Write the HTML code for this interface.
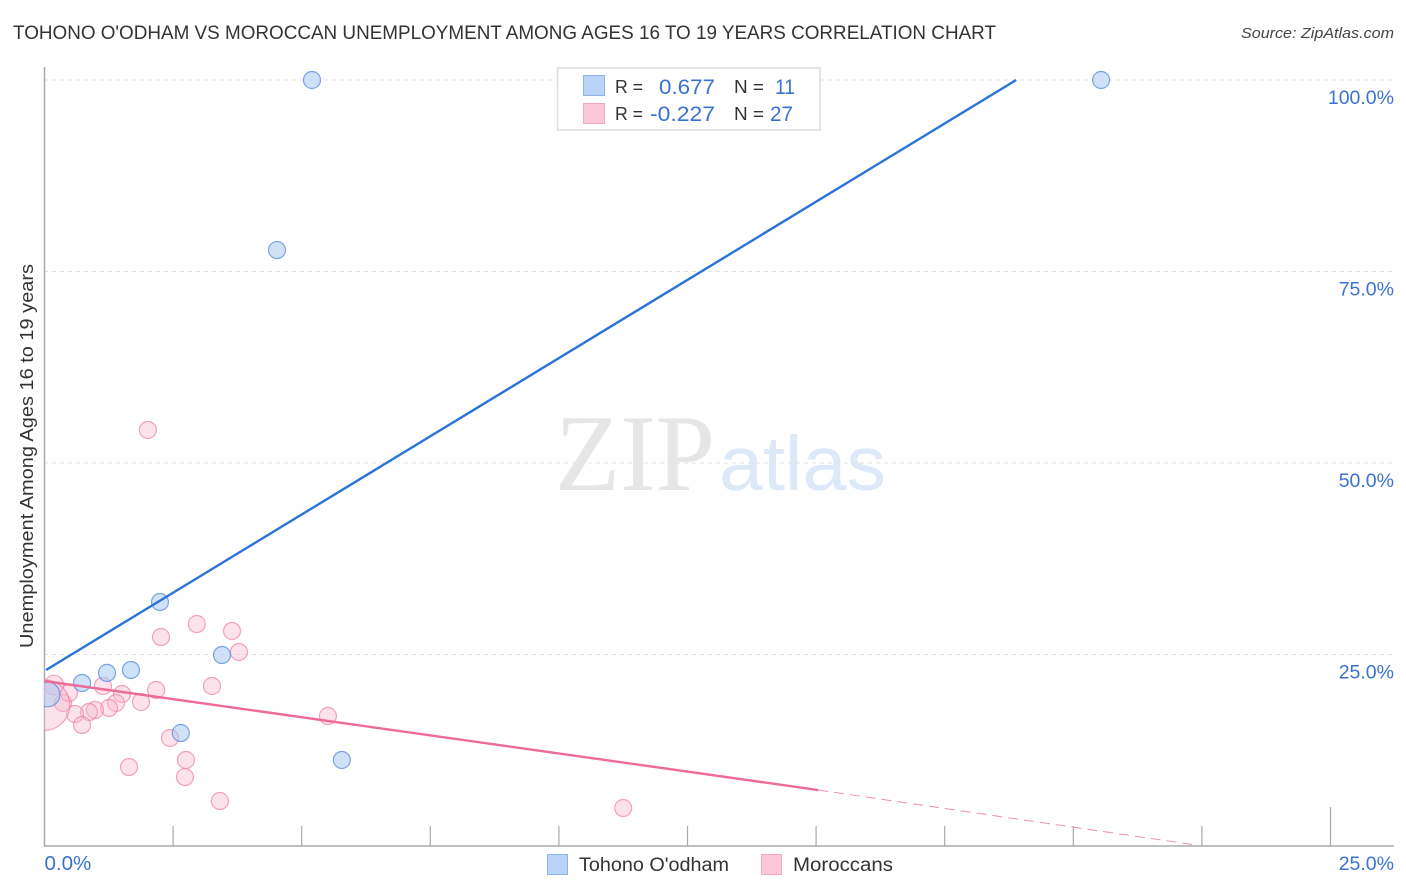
<!DOCTYPE html>
<html lang="en">
<head>
<meta charset="utf-8">
<title>Tohono O'odham vs Moroccan Unemployment Correlation Chart</title>
<style>
html,body{margin:0;padding:0;background:#fff;}
svg{display:block;font-family:"Liberation Sans",sans-serif;}
</style>
</head>
<body>
<svg id="chart" width="1406" height="892" viewBox="0 0 1406 892" xmlns="http://www.w3.org/2000/svg">
  <defs>
    <clipPath id="plot-clip"><rect x="44" y="60" width="1350" height="786"/></clipPath>
  </defs>
  <rect x="0" y="0" width="1406" height="892" fill="#ffffff"/>
  <text x="13" y="39" font-size="19" fill="#333333" textLength="983" lengthAdjust="spacingAndGlyphs">TOHONO O'ODHAM VS MOROCCAN UNEMPLOYMENT AMONG AGES 16 TO 19 YEARS CORRELATION CHART</text>
  <text x="1394" y="38" font-size="15" font-style="italic" fill="#444444" text-anchor="end" textLength="153" lengthAdjust="spacingAndGlyphs">Source: ZipAtlas.com</text>

  <g>
    <text x="555" y="490" font-family="'Liberation Serif',serif" font-size="109" fill="#e6e6e6" textLength="160" lengthAdjust="spacingAndGlyphs">ZIP</text>
    <text x="719" y="490" font-size="77" fill="#dde8f8" textLength="167" lengthAdjust="spacingAndGlyphs">atlas</text>
  </g>

  <g id="grid"></g>
  <g id="axes"></g>
  <g id="points" clip-path="url(#plot-clip)"></g>
  <g id="trends"></g>
  <g id="tick-labels"></g>

  <text transform="translate(33,456) rotate(-90)" font-size="18" fill="#333333" text-anchor="middle" textLength="384" lengthAdjust="spacingAndGlyphs">Unemployment Among Ages 16 to 19 years</text>

  <g>
    <rect x="557.5" y="68" width="262.5" height="62" fill="#ffffff" stroke="#e0e0e0" stroke-width="1.6"/>
    <rect x="583.5" y="75.5" width="21" height="20" fill="#b9d4f8" stroke="#8db4e8" stroke-width="1"/>
    <rect x="583.5" y="103.5" width="21" height="20" fill="#fcc7d8" stroke="#f5a6c0" stroke-width="1"/>
    <text x="615" y="93" font-size="18" fill="#333333" textLength="28" lengthAdjust="spacingAndGlyphs">R =</text>
    <text x="659" y="94" font-size="21" fill="#3b72cf" textLength="56" lengthAdjust="spacingAndGlyphs">0.677</text>
    <text x="734" y="93" font-size="18" fill="#333333" textLength="30" lengthAdjust="spacingAndGlyphs">N =</text>
    <text x="775" y="94" font-size="21" fill="#3b72cf" textLength="20" lengthAdjust="spacingAndGlyphs">11</text>
    <text x="615" y="120" font-size="18" fill="#333333" textLength="28" lengthAdjust="spacingAndGlyphs">R =</text>
    <text x="650" y="121" font-size="21" fill="#3b72cf" textLength="65" lengthAdjust="spacingAndGlyphs">-0.227</text>
    <text x="734" y="120" font-size="18" fill="#333333" textLength="30" lengthAdjust="spacingAndGlyphs">N =</text>
    <text x="770" y="121" font-size="21" fill="#3b72cf" textLength="23" lengthAdjust="spacingAndGlyphs">27</text>
  </g>

  <g>
    <rect x="547.5" y="854.5" width="20" height="20" fill="#b9d4f8" stroke="#8db4e8" stroke-width="1"/>
    <text x="579" y="871" font-size="19" fill="#333333" textLength="150" lengthAdjust="spacingAndGlyphs">Tohono O'odham</text>
    <rect x="761.5" y="854.5" width="20" height="20" fill="#fcc7d8" stroke="#f5a6c0" stroke-width="1"/>
    <text x="793" y="871" font-size="19" fill="#333333" textLength="100" lengthAdjust="spacingAndGlyphs">Moroccans</text>
  </g>
</svg>

<script>
// Chart data (percent values)
const yTickValues = [25, 50, 75, 100];
const yTickLabels = ["25.0%", "50.0%", "75.0%", "100.0%"];
const xTickValues = [2.5, 5, 7.5, 10, 12.5, 15, 17.5, 20, 22.5, 25];
const xEndValues = [0, 25];
const xEndLabels = ["0.0%", "25.0%"];

const tohonoX = [5.20, 20.54, 4.52, 2.245, 3.45, 1.215, 1.68, 0.73, 2.65, 5.78, 0.06];
const tohonoY = [100, 100, 77.8, 31.85, 24.93, 22.6, 22.98, 21.28, 14.75, 11.23, 19.78];
const tohonoWeight = [1, 1, 1, 1, 1, 1, 1, 1, 1, 1, 2.1];

const moroccansX = [2.96, 3.645, 2.265, 3.78, 3.256, 2.17, 1.137, 1.507, 1.39, 1.254, 1.876, 5.51, 0.98, 0.865, 0.593, 0.73, 0.36, 0.476, 0.185, 2.44, 2.75, 2.73, 1.643, 3.41, 11.25, 2.01, 0];
const moroccansY = [28.98, 28.07, 27.28, 25.33, 20.89, 20.37, 20.89, 19.84, 18.67, 18.02, 18.8, 16.97, 17.75, 17.49, 17.23, 15.8, 18.67, 19.97, 21.02, 14.1, 11.23, 9.0, 10.31, 5.87, 4.96, 54.31, 18.4];
const moroccansWeight = [1, 1, 1, 1, 1, 1, 1, 1, 1, 1, 1, 1, 1, 1, 1, 1, 1, 1, 1.3, 1, 1, 1, 1, 1, 1, 1, 8.8];

const tohonoTrendX = [0.03, 18.89];
const tohonoTrendY = [22.98, 100];
const moroccansTrendX = [0, 15.04];
const moroccansTrendY = [21.54, 7.31];
const moroccansDashX = [15.04, 22.41];
const moroccansDashY = [7.31, 0.1];

// Axis functions
function xScale(v) { return 44.5 + v * 51.44; }
function yScale(v) { return 846 - v * 7.66; }
function rScale(w) { return 8.5 * Math.sqrt(w); }

const NS = "http://www.w3.org/2000/svg";
function make(tag, parent) {
  const el = document.createElementNS(NS, tag);
  document.getElementById(parent).appendChild(el);
  return el;
}
function setLine(el, x1, y1, x2, y2, stroke, width) {
  el.setAttribute("x1", x1);
  el.setAttribute("y1", y1);
  el.setAttribute("x2", x2);
  el.setAttribute("y2", y2);
  el.setAttribute("stroke", stroke);
  el.setAttribute("stroke-width", width);
}

// Gridlines and y labels
yTickValues.forEach(function (v, i) {
  const g = make("line", "grid");
  
  
  setLine(g, 44, yScale(v), 1394, yScale(v), "#e2e2e2", 1);
  g.setAttribute("stroke-dasharray", "4 4");

  const t = make("text", "tick-labels");
  
  
  t.setAttribute("x", 1394);
  t.setAttribute("y", yScale(v) + 24);
  t.setAttribute("text-anchor", "end");
  t.setAttribute("font-size", "19.5");
  t.setAttribute("fill", "#3b72cf");
  t.textContent = yTickLabels[i];
});

// Axes
const yAxisLine = make("line", "axes");


setLine(yAxisLine, 44.5, 67, 44.5, 846, "#aaaaaa", 1.5);

const xAxisLine = make("line", "axes");


setLine(xAxisLine, 44, 846, 1394, 846, "#aaaaaa", 1.5);

xTickValues.forEach(function (v, i) {
  const tick = make("line", "axes");
  
  
  const top = i === xTickValues.length - 1 ? 807 : 826;
  setLine(tick, xScale(v), top, xScale(v), 846, "#aaaaaa", 1.2);
});

xEndValues.forEach(function (v, i) {
  const t = make("text", "tick-labels");
  
  
  t.setAttribute("x", i === 0 ? xScale(v) : 1394);
  t.setAttribute("y", 870);
  t.setAttribute("text-anchor", i === 0 ? "start" : "end");
  t.setAttribute("font-size", i === 0 ? "20.5" : "19.5");
  t.setAttribute("fill", "#3b72cf");
  t.textContent = xEndLabels[i];
});

// Points
moroccansX.forEach(function (x, i) {
  const c = make("circle", "points");
  
  
  c.setAttribute("cx", xScale(x));
  c.setAttribute("cy", yScale(moroccansY[i]));
  c.setAttribute("r", rScale(moroccansWeight[i]));
  c.setAttribute("fill", "#f9b9cf");
  c.setAttribute("fill-opacity", "0.42");
  c.setAttribute("stroke", "#ee86a8");
  c.setAttribute("stroke-opacity", "0.75");
  c.setAttribute("stroke-width", "1.2");
});

tohonoX.forEach(function (x, i) {
  const c = make("circle", "points");
  
  
  c.setAttribute("cx", xScale(x));
  c.setAttribute("cy", yScale(tohonoY[i]));
  c.setAttribute("r", rScale(tohonoWeight[i]));
  c.setAttribute("fill", "#a9cbf3");
  c.setAttribute("fill-opacity", "0.55");
  c.setAttribute("stroke", "#5d90dc");
  c.setAttribute("stroke-opacity", "0.8");
  c.setAttribute("stroke-width", "1.2");
});

// Trend lines
const tohonoTrend = make("line", "trends");


setLine(tohonoTrend, xScale(tohonoTrendX[0]), yScale(tohonoTrendY[0]), xScale(tohonoTrendX[1]), yScale(tohonoTrendY[1]), "#2a73d9", 2.4);

const moroccansTrend = make("line", "trends");


setLine(moroccansTrend, xScale(moroccansTrendX[0]), yScale(moroccansTrendY[0]), xScale(moroccansTrendX[1]), yScale(moroccansTrendY[1]), "#ee6a98", 2.4);

const moroccansDash = make("line", "trends");


setLine(moroccansDash, xScale(moroccansDashX[0]), yScale(moroccansDashY[0]), xScale(moroccansDashX[1]), yScale(moroccansDashY[1]), "#ee8fb0", 1);
moroccansDash.setAttribute("stroke-dasharray", "10 6");
</script>
</body>
</html>
